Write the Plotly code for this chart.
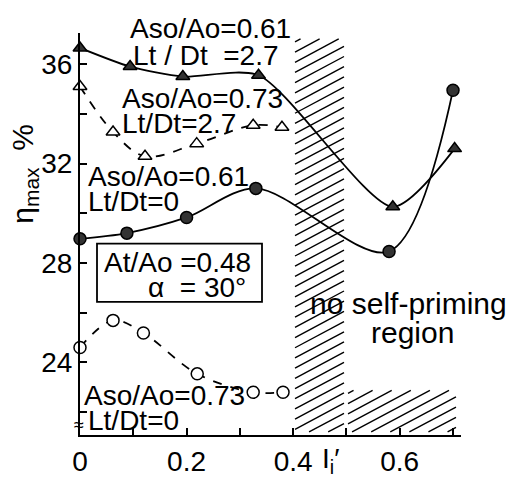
import plotly.graph_objects as go

# ---- data ----
s1_x = [0.0, 0.094, 0.193, 0.335, 0.587, 0.703]      # Aso/Ao=0.61, Lt/Dt=2.7
s1_y = [36.65, 35.9, 35.5, 35.55, 30.26, 32.6]
s2_x = [0.0, 0.062, 0.122, 0.219, 0.325, 0.379]      # Aso/Ao=0.73, Lt/Dt=2.7
s2_y = [35.1, 33.27, 32.29, 32.8, 33.54, 33.46]
s3_x = [0.0, 0.088, 0.2, 0.33, 0.58, 0.70]           # Aso/Ao=0.61, Lt/Dt=0
s3_y = [28.97, 29.2, 29.83, 31.0, 28.46, 34.95]
s4_x = [0.0, 0.062, 0.119, 0.22, 0.325, 0.381]       # Aso/Ao=0.73, Lt/Dt=0
s4_y = [24.6, 25.69, 25.18, 23.54, 22.8, 22.8]

x_ticks = [0.0, 0.1, 0.2, 0.3, 0.4, 0.5, 0.6, 0.7]
x_ticktext = ["0", "", "0.2", "", "0.4", "", "0.6", ""]
y_ticks = [22, 24, 26, 28, 30, 32, 34, 36]
y_ticktext = ["", "24", "", "28", "", "32", "", "36"]

X_RANGE = [0.0, 0.715]
Y_RANGE = [21.08, 37.25]

W, H = 514, 489
ML, MT, MB = 80, 33, 42
PW = 381
MR = W - ML - PW
PH = H - MT - MB

FONT = "Liberation Sans, Arial, sans-serif"
FS = 28

def px2paper(px, py):
    return (px - ML) / PW, (H - MB - py) / PH

# no self-priming region: two screen rectangles forming an L (left, right, top, bottom) in px
hatch_rects = [(293, 346, 38, 445), (346, 458, 400, 445)]
HATCH_SLOPE = 0.55     # screen rise per px
HATCH_GAP = 10.5       # vertical spacing in px

fig = go.Figure()

def add_series(x, y, dash, symbol, fill, smooth):
    fig.add_trace(go.Scatter(
        x=x, y=y, mode="lines+markers",
        line=dict(color="black", width=1.8, dash=dash, shape="spline", smoothing=smooth),
        marker=dict(symbol=symbol, size=12,
                    color="#333333" if fill else "white",
                    line=dict(color="black", width=1.5)),
        cliponaxis=False, showlegend=False))

add_series(s1_x, s1_y, "solid", "triangle-up", True, 0.7)
add_series(s2_x, s2_y, "dash", "triangle-up", False, 1.0)
add_series(s3_x, s3_y, "solid", "circle", True, 0.9)
add_series(s4_x, s4_y, "dash", "circle", False, 1.0)

shapes = []
for (l, r, t, b) in hatch_rects:
    # line: py = c - HATCH_SLOPE * px
    c = t + HATCH_SLOPE * l + HATCH_GAP * 0.5
    cmax = b + HATCH_SLOPE * r
    while c < cmax:
        pa = max(l, (c - b) / HATCH_SLOPE) + 2
        pb = min(r, (c - t) / HATCH_SLOPE) - 2
        if pb > pa + 3:
            xa, ya = px2paper(pa, c - HATCH_SLOPE * pa)
            xb, yb = px2paper(pb, c - HATCH_SLOPE * pb)
            shapes.append(dict(type="line", xref="paper", yref="paper", layer="below",
                               x0=xa, y0=ya, x1=xb, y1=yb,
                               line=dict(color="black", width=1.4)))
        c += HATCH_GAP

bx0, by0 = px2paper(97, 310)
bx1, by1 = px2paper(262, 250)
shapes.append(dict(type="rect", xref="paper", yref="paper",
                   x0=bx0, x1=bx1, y0=by0, y1=by1,
                   line=dict(color="black", width=1.8)))

ann = []
def txt(t, px, py, xanchor="left", size=FS, **kw):
    x, y = px2paper(px, py)
    ann.append(dict(text=t, x=x, y=y, xref="paper", yref="paper", xanchor=xanchor,
                    yanchor="middle", showarrow=False,
                    font=dict(family=FONT, size=size, color="black"), **kw))

txt("Aso/Ao=0.61", 128, 28)
txt("Lt / Dt  =2.7", 131, 56)
txt("Aso/Ao=0.73", 120, 100)
txt("Lt/Dt=2.7", 120, 126)
txt("Aso/Ao=0.61", 86, 181)
txt("Lt/Dt=0", 86, 207)
txt("At/Ao =0.48", 102, 269)
txt("α  = 30°", 248, 295, xanchor="right")
txt("Aso/Ao=0.73", 82, 406)
txt("Lt/Dt=0", 86, 432)
txt("no self-priming", 408, 312, xanchor="center", size=30)
txt("region", 412, 341, xanchor="center", size=30)
txt("I<sub>i</sub>′", 330, 473, xanchor="center")
txt("η<sub>max</sub>  %", 25, 178, xanchor="center", size=30, textangle=-90)
txt("≈", 79, 437, xanchor="center", size=18)

fig.update_layout(
    width=W, height=H,
    margin=dict(l=ML, r=MR, t=MT, b=MB),
    paper_bgcolor="white", plot_bgcolor="white",
    annotations=ann, shapes=shapes,
    xaxis=dict(range=X_RANGE, tickvals=x_ticks, ticktext=x_ticktext,
               ticks="inside", ticklen=7, tickwidth=1.5, tickcolor="black",
               showline=True, linecolor="black", linewidth=2, showgrid=False,
               zeroline=False, tickfont=dict(family=FONT, size=FS, color="black")),
    yaxis=dict(range=Y_RANGE, tickvals=y_ticks, ticktext=y_ticktext,
               ticks="inside", ticklen=7, tickwidth=1.5, tickcolor="black",
               showline=True, linecolor="black", linewidth=2, showgrid=False,
               zeroline=False, tickfont=dict(family=FONT, size=FS, color="black")),
)

fig.write_html("out.html")
